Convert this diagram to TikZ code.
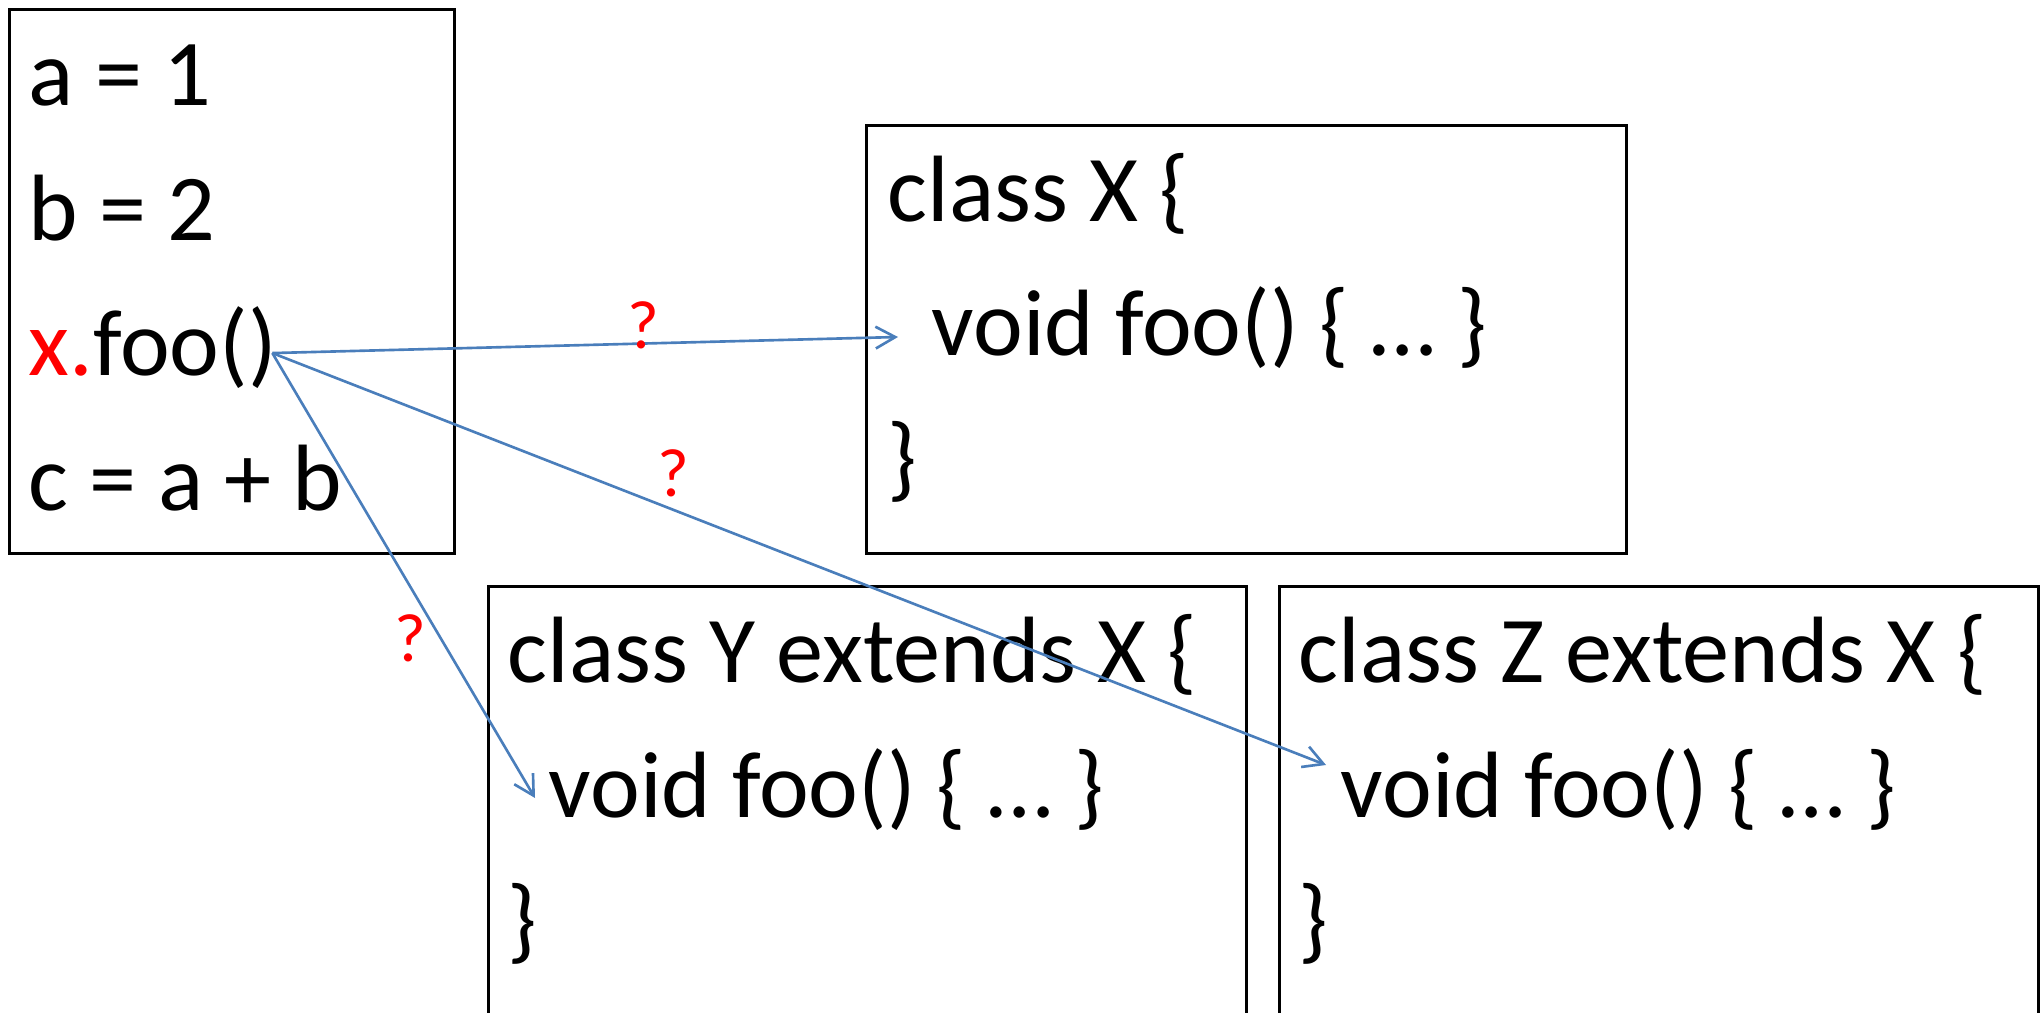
\documentclass[tikz,border=0pt]{standalone}
\usepackage{fontspec}
\setmainfont{Carlito}
\usetikzlibrary{arrows.meta}
\definecolor{callblue}{RGB}{74,126,187}

\begin{document}
\begin{tikzpicture}[x=0.01cm,y=-0.01cm,
  codebox/.style={draw=black, line width=0.8pt, anchor=north west, inner sep=0pt},
  codeline/.style={anchor=base west, inner sep=0pt, font=\fontsize{26.8}{32}\selectfont},
  call/.style={draw=callblue, line width=0.75pt, -{Straight Barb[length=5.6pt,width=6.2pt]}},
  qmark/.style={text=red, inner sep=0pt, font=\fontsize{19.5}{23}\selectfont}]
\useasboundingbox (0,0) rectangle (2040,1013);

% frames
\node[codebox, minimum width=4.45cm, minimum height=5.44cm] (mainbox) at (8,8) {};
\node[codebox, minimum width=7.60cm, minimum height=4.28cm] (boxX) at (865,124) {};
\node[codebox, minimum width=7.58cm, minimum height=4.30cm] (boxY) at (487,585) {};
\node[codebox, minimum width=7.59cm, minimum height=4.30cm] (boxZ) at (1278,585) {};

% calling code
\node[codeline] (la) at (28,106) {a = 1};
\node[codeline] (lb) at (28,241) {b = 2};
\node[codeline] (foo) at (28,376) {{\color{red}x.}foo()};
\node[codeline] (lc) at (28,511) {c = a + b};

% class X
\node[codeline] (hX) at (887,222) {class X \{};
\node[codeline] (vX) at (931,356) {void foo() \{ … \}};
\node[codeline] (eX) at (887,490) {\}};

% class Y
\node[codeline] (hY) at (507,682) {class Y extends X \{};
\node[codeline] (vY) at (548,817) {void foo() \{ … \}};
\node[codeline] (eY) at (507,951) {\}};

% class Z
\node[codeline] (hZ) at (1298,682) {class Z extends X \{};
\node[codeline] (vZ) at (1340,817) {void foo() \{ … \}};
\node[codeline] (eZ) at (1298,951) {\}};

% possible dispatch targets
\draw[call] ([shift={(-5,5)}]foo.east) -- ([shift={(-33,-19)}]vX.base west);
\draw[call] ([shift={(-5,5)}]foo.east) -- ([shift={(-14,-52)}]vZ.base west);
\draw[call] ([shift={(-5,5)}]foo.east) -- ([shift={(-13,-19)}]vY.base west);

\node[qmark] (q1) at (643,325) {?};
\node[qmark] (q2) at (673,473) {?};
\node[qmark] (q3) at (410,638) {?};
\end{tikzpicture}
\end{document}
